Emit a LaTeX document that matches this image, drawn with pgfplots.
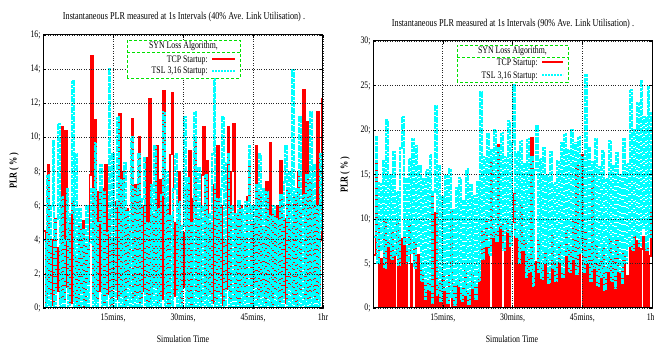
\documentclass[border=0pt]{standalone}
\usepackage{pgfplots}
\pgfplotsset{compat=1.18}
\usepackage{pgfplotstable}
\usepackage{fontspec}
\setmainfont{Liberation Serif}[FakeStretch=0.78]
\definecolor{pred}{RGB}{255,0,0}
\definecolor{pcyan}{RGB}{0,255,255}
\definecolor{pgreen}{RGB}{0,225,0}
\newcommand\fs[1]{\fontsize{#1}{#1}\selectfont}

% Left panel (40% utilisation): TCP startup (red) and TSL 3,16 startup (cyan)
\pgfplotstableread[row sep=\\]{y\\
4.5\\0.3\\8.4\\0.8\\4.0\\0.2\\5.2\\1.0\\3.5\\0.4\\
10.6\\0.5\\10.4\\1.2\\5.0\\0.3\\6.4\\0.6\\3.0\\0.2\\
4.8\\0.9\\5.1\\0.1\\3.6\\1.4\\7.8\\14.8\\0.6\\11.0\\
0.4\\6.8\\1.0\\7.0\\0.3\\8.4\\0.8\\5.5\\0.2\\4.0\\
1.1\\6.2\\0.5\\11.4\\0.7\\8.0\\0.2\\5.8\\1.3\\4.6\\
11.1\\0.4\\7.2\\0.9\\10.0\\0.3\\6.0\\1.0\\8.8\\0.2\\
12.25\\0.6\\5.5\\1.2\\9.5\\0.3\\7.5\\0.5\\12.7\\0.8\\
6.0\\0.2\\9.0\\12.6\\0.7\\5.0\\1.0\\8.0\\0.3\\4.4\\
1.2\\7.0\\0.5\\9.2\\0.2\\6.4\\10.0\\0.8\\5.2\\0.4\\
7.8\\10.6\\0.6\\8.6\\1.0\\5.0\\0.3\\7.2\\0.5\\9.5\\
0.9\\6.0\\0.2\\4.0\\1.1\\10.6\\0.4\\8.0\\10.8\\0.6\\
5.4\\0.3\\6.0\\1.0\\4.2\\0.5\\6.5\\8.5\\0.2\\5.0\\
1.3\\9.5\\0.4\\6.8\\0.8\\4.6\\0.3\\7.4\\0.6\\9.65\\
0.2\\5.5\\1.0\\6.0\\0.4\\8.6\\0.7\\5.2\\0.3\\7.0\\
1.2\\4.8\\0.5\\6.6\\0.2\\8.0\\0.9\\5.5\\12.8\\0.6\\
10.9\\0.3\\7.4\\1.0\\6.2\\0.4\\11.5\\0.8\\4.0\\12.3\\
}\LR
\pgfplotstableread[row sep=\\]{y\\
4.0\\0\\7.8\\0\\6.0\\9.8\\0\\5.2\\10.8\\0\\
6.5\\0\\4.0\\7.0\\0\\5.5\\13.3\\0\\9.0\\0\\
5.8\\0\\4.6\\0\\6.0\\0\\3.8\\7.0\\0\\9.7\\
0\\5.0\\8.4\\0\\6.8\\0\\4.4\\14.0\\0\\9.0\\
0\\6.0\\11.2\\0\\7.5\\0\\8.5\\0\\5.6\\0\\
10.0\\0\\7.0\\0\\9.0\\0\\6.4\\8.8\\0\\5.0\\
0\\7.2\\0\\9.5\\0\\5.8\\0\\6.6\\11.5\\0\\
8.0\\0\\5.4\\0\\7.0\\9.0\\0\\6.2\\0\\4.8\\
11.2\\0\\7.6\\0\\5.0\\0\\11.5\\0\\8.2\\0\\
6.0\\0\\7.8\\0\\5.5\\0\\9.0\\13.6\\0\\6.4\\
0\\7.0\\11.2\\0\\8.5\\9.0\\0\\6.0\\0\\5.5\\
0\\6.3\\0\\5.8\\0\\6.2\\0\\9.5\\0\\6.0\\
0\\7.2\\0\\9.0\\0\\7.0\\0\\6.8\\0\\5.4\\
0\\6.0\\0\\5.2\\0\\6.6\\0\\7.4\\9.5\\0\\
8.0\\0\\13.95\\0\\7.0\\0\\11.2\\0\\6.6\\0\\
7.8\\0\\11.5\\0\\8.4\\0\\6.0\\0\\9.0\\4.5\\
}\LC
% Right panel (90% utilisation)
\pgfplotstableread[row sep=\\]{y\\
6.0\\16.3\\9.0\\0\\5.5\\0\\10.0\\0\\7.5\\0\\
8.8\\0\\6.2\\9.6\\0\\7.8\\0\\8.5\\0\\6.8\\
9.2\\0\\5.0\\7.4\\0\\6.0\\0\\4.2\\0\\2.5\\
0\\3.0\\0\\12.5\\0\\10.7\\0\\2.8\\0\\3.5\\
0\\2.0\\0\\4.0\\10.8\\0\\2.6\\0\\3.2\\0\\
2.2\\0\\4.5\\0\\1.8\\0\\3.8\\0\\2.4\\0\\
4.0\\0\\8.5\\0\\9.8\\0\\7.0\\16.4\\0\\8.8\\
0\\18.3\\0\\9.5\\7.2\\0\\10.0\\0\\8.4\\9.6\\
12.8\\0\\8.0\\0\\11.6\\0\\7.5\\0\\6.0\\0\\
19.1\\0\\5.2\\0\\7.8\\0\\4.6\\0\\6.4\\0\\
3.8\\0\\8.2\\0\\5.0\\0\\7.0\\0\\4.4\\0\\
9.0\\0\\6.5\\0\\10.2\\0\\16.1\\0\\7.4\\17.2\\
0\\8.6\\0\\6.8\\0\\15.2\\0\\7.2\\0\\5.4\\
0\\6.8\\0\\4.6\\0\\8.0\\0\\5.8\\0\\7.6\\
0\\4.0\\0\\6.2\\0\\3.6\\0\\7.0\\0\\8.2\\
0\\7.5\\0\\6.6\\8.0\\0\\7.2\\0\\5.8\\11.0\\
}\RR
\pgfplotstableread[row sep=\\]{y\\
8.0\\19.2\\5.0\\14.0\\6.5\\16.5\\4.5\\21.1\\7.0\\15.0\\
5.5\\17.5\\6.0\\13.0\\4.8\\18.0\\21.5\\7.2\\14.5\\5.0\\
16.8\\6.2\\19.0\\4.5\\18.2\\7.0\\16.0\\3.0\\14.5\\1.0\\
15.5\\2.0\\17.2\\0.5\\13.0\\22.7\\1.5\\16.0\\0.8\\12.5\\
2.0\\14.8\\0.5\\15.6\\1.2\\11.0\\0.3\\13.5\\2.5\\14.6\\
0.8\\12.0\\1.5\\15.6\\0.4\\13.8\\2.2\\12.6\\1.0\\14.2\\
3.0\\24.3\\5.5\\17.0\\7.0\\19.5\\6.0\\17.8\\8.0\\20.0\\
7.5\\18.0\\9.0\\19.7\\6.5\\17.0\\8.5\\21.0\\7.0\\18.5\\
25.1\\8.0\\17.5\\5.0\\18.8\\6.5\\16.2\\3.5\\19.0\\4.0\\
17.0\\2.5\\15.5\\20.4\\4.0\\16.8\\3.2\\18.0\\5.0\\15.0\\
2.8\\17.5\\4.5\\14.0\\3.0\\16.5\\5.2\\18.5\\3.5\\19.5\\
6.0\\17.8\\4.0\\20.0\\5.5\\18.6\\3.8\\19.2\\6.2\\17.0\\
4.0\\26.2\\5.0\\18.0\\3.0\\16.4\\4.5\\19.0\\2.5\\15.8\\
3.5\\17.6\\2.0\\14.5\\4.2\\18.8\\3.0\\16.0\\2.2\\17.4\\
4.0\\15.0\\2.8\\19.0\\5.0\\16.2\\7.0\\24.5\\6.5\\20.0\\
8.0\\23.0\\7.0\\25.5\\9.0\\21.5\\6.5\\24.8\\8.0\\22.0\\
}\RC

\pgfplotsset{
  plr/.style={
    scale only axis, anchor=south west,
    xmin=0, xmax=60, ymin=0,
    xtick={15,30,45,60},
    xticklabels={\mbox{15mins,},\mbox{30mins,},\mbox{45mins,},\mbox{1hr}},
    grid=major,
    major grid style={black!85, dotted, line width=0.7pt},
    axis line style={black, line width=1pt},
    tick style={black, line width=0.5pt},
    major tick length=3pt,
    tick align=inside,
    axis on top,
    tick label style={font=\fs{10}},
    xticklabel style={yshift=-2pt},
    yticklabel style={xshift=1pt},
    red line/.style={pred, const plot, line width=1.85pt, line join=miter},
    cyan line/.style={pcyan, const plot, line width=1.9pt, line join=miter, dash pattern=on 3pt off 0.6pt},
  }
}

\begin{document}
\begin{tikzpicture}[x=1pt,y=1pt]
\useasboundingbox (0,0) rectangle (654,345);

% ---------- left panel ----------
\begin{axis}[plr, at={(43pt,37pt)}, width=280pt, height=273pt, ymax=16,
  ytick={0,2,...,16},
  yticklabels={\mbox{0;},\mbox{2;},\mbox{4;},\mbox{6;},\mbox{8;},\mbox{10;},\mbox{12;},\mbox{14;},\mbox{16;}}]
\addplot[red line] table[x expr=\coordindex*0.375+0.2, y=y] {\LR};
\addplot[cyan line] table[x expr=\coordindex*0.375+0.2, y=y] {\LC};
\end{axis}

% ---------- right panel ----------
\begin{axis}[plr, at={(373pt,37pt)}, width=279pt, height=267pt, ymax=30,
  ytick={0,5,...,30},
  yticklabels={\mbox{0;},\mbox{5;},\mbox{10;},\mbox{15;},\mbox{20;},\mbox{25;},\mbox{30;}}]
\addplot[red line] table[x expr=\coordindex*0.375+0.2, y=y] {\RR};
\addplot[cyan line] table[x expr=\coordindex*0.375+0.2, y=y] {\RC};
\end{axis}

% titles and axis labels
\node[font=\fs{10.5}] at (184,328) {Instantaneous PLR measured at 1s Intervals (40\% Ave. Link Utilisation) .};
\node[font=\fs{10.5}] at (513,321) {Instantaneous PLR measured at 1s Intervals (90\% Ave. Link Utilisation) .};
\node[font=\fs{10}] at (183,6) {Simulation Time};
\node[font=\fs{10}] at (512,6) {Simulation Time};
\node[font=\bfseries\fs{10.5}, rotate=90] at (14,174) {PLR (\,\%\,)};
\node[font=\bfseries\fs{10.5}, rotate=90] at (345,170) {PLR (\,\%\,)};

% legends
\draw[pgreen, densely dashed, line width=0.7pt, fill=white] (127,267) rectangle (240,305);
\draw[pgreen, densely dashed, line width=0.7pt] (127,293) -- (240,293);
\node[font=\fs{10}] at (183.5,299) {SYN Loss Algorithm,};
\node[font=\fs{10}, anchor=east, inner sep=0pt] at (208,285) {TCP Startup:};
\draw[pred, line width=1.2pt] (212,286) -- (235,286);
\node[font=\fs{10}, anchor=east, inner sep=0pt] at (208,274) {TSL 3,16 Startup:};
\draw[pcyan, line width=1.2pt, dash pattern=on 2pt off 1pt] (212,274) -- (235,274);

\draw[pgreen, densely dashed, line width=0.7pt, fill=white] (457,263) rectangle (568,300);
\draw[pgreen, densely dashed, line width=0.7pt] (457,288) -- (568,288);
\node[font=\fs{10}] at (512.5,294) {SYN Loss Algorithm,};
\node[font=\fs{10}, anchor=east, inner sep=0pt] at (538,282) {TCP Startup:};
\draw[pred, line width=1.2pt] (542,283) -- (563,283);
\node[font=\fs{10}, anchor=east, inner sep=0pt] at (538,269) {TSL 3,16 Startup:};
\draw[pcyan, line width=1.2pt, dash pattern=on 2pt off 1pt] (542,270) -- (563,270);
\end{tikzpicture}
\end{document}
